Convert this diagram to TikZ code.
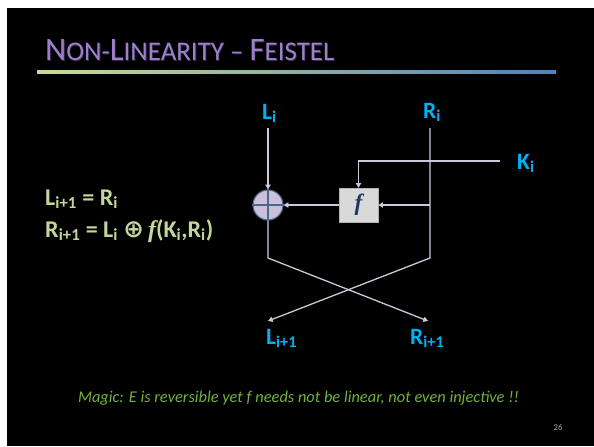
\documentclass[tikz,border=0pt]{standalone}
\usepackage{fontspec}
\setmainfont{Carlito}
\newfontfamily\serifit{Liberation Serif}
\newfontfamily\symfont{DejaVu Sans}
\usetikzlibrary{positioning, arrows.meta, calc}

\definecolor{titlepurple}{HTML}{9C80CA}
\definecolor{titleglow}{HTML}{3A2A55}
\definecolor{wirecol}{HTML}{CFC8DC}
\definecolor{labelcyan}{HTML}{00B0F0}
\definecolor{eqgreen}{HTML}{C3D69B}
\definecolor{notegreen}{HTML}{72B23F}
\definecolor{xorfill}{HTML}{CCC1DA}
\definecolor{xorline}{HTML}{4A6A8C}
\definecolor{boxfill}{HTML}{D9D9D9}
\definecolor{fblue}{HTML}{1F3864}
\definecolor{rulegreen}{HTML}{CADB8E}
\definecolor{ruleblue}{HTML}{4F81BD}

\newcommand{\capbig}[1]{{\fontsize{28}{32}\selectfont #1}}
\newcommand{\capsmall}[1]{{\fontsize{23}{26}\selectfont #1}}
\newcommand{\titletext}{\capbig{N}\capsmall{ON-}\capbig{L}\capsmall{INEARITY -- }\capbig{F}\capsmall{EISTEL}}

\tikzset{
  wire/.style={wirecol, line width=1.1pt},
  flow/.style={wire, -{Triangle[length=4pt,width=4.5pt]}},
  port/.style={text=labelcyan, font=\fontsize{20}{24}\selectfont\bfseries, inner sep=0pt, anchor=base west},
  eqn/.style={text=eqgreen, font=\fontsize{20.5}{24}\selectfont\bfseries, inner sep=0pt, anchor=base west},
  fblock/.style={draw=gray!60, fill=boxfill, minimum width=1.17cm, minimum height=1.02cm, inner sep=0pt},
  xorgate/.style={circle, draw=xorline, fill=xorfill, line width=1pt, minimum size=0.9cm, inner sep=0pt},
}

\begin{document}
\begin{tikzpicture}[x=0.03cm, y=-0.03cm]
    % Khung trang
    \useasboundingbox (0,0) rectangle (594,446);
    \fill[white] (0,0) rectangle (594,446);
    \fill[black] (7,8) rectangle (594,446);

    % Tieu de
    \node[text=titleglow, inner sep=0pt, anchor=base west] (titleglow) at (45.8,61.5) {\titletext};
    \node[text=titlepurple, inner sep=0pt, anchor=base west] (title) at (45,60) {\titletext};
    \shade[left color=rulegreen, right color=ruleblue] (37,70) rectangle (556,73);

    % Cong thuc
    \node[eqn] (eq1) at (45,205) {L\textsubscript{i+1} = R\textsubscript{i}};
    \node[eqn] (eq2) at (45,237) {R\textsubscript{i+1} = L\textsubscript{i} {\symfont\bfseries\fontsize{21}{24}\selectfont ⊕}\,{\serifit\itshape f}(K\textsubscript{i},R\textsubscript{i})};

    % Nhan vao / ra
    \node[port] (Li) at (262,119) {L\textsubscript{i}};
    \node[port] (Ri) at (423,118) {R\textsubscript{i}};
    \node[port] (Ki) at (517,169) {K\textsubscript{i}};
    \node[port] (Lnext) at (266,344) {L\textsubscript{i+1}};
    \node[port] (Rnext) at (410,344) {R\textsubscript{i+1}};

    % Khoi xor va f
    \node[xorgate] (xor) at (268,205) {};
    \draw[xorline, line width=1pt] (xor.north) -- (xor.south) (xor.west) -- (xor.east);
    \node[fblock] (fbox) at (358.5,205) {\fontsize{20}{24}\selectfont\serifit\bfseries\itshape\color{fblue}f};

    % Diem noi
    \coordinate (Ltop) at (268,128);
    \coordinate (Rtop) at (430,128);
    \coordinate (Kin) at (500,161);
    \coordinate (Rtap) at (430,205);
    \coordinate (Lbend) at (268,258);
    \coordinate (Rbend) at (430,258);
    \coordinate (Lout) at (268,321);
    \coordinate (Rout) at (428,321);

    % Day noi
    \draw[flow] (Ltop) -- (xor);
    \draw[flow] (Kin) -| (fbox);
    \draw[flow] (Rtap) -- (fbox);
    \draw[flow] (fbox) -- (xor);
    \draw[flow] (xor) -- (Lbend) -- (Rout);
    \draw[flow] (Rtop) -- (Rbend) -- (Lout);

    % Ghi chu
    \node[text=notegreen, inner sep=0pt, anchor=base, font=\fontsize{14}{17}\selectfont\itshape] (note) at (298.5,402)
      {Magic: E is reversible yet f needs not be linear, not even injective !!};
    \node[text=gray!70!white, inner sep=0pt, font=\fontsize{7.5}{9}\selectfont] (page) at (558,428) {26};
\end{tikzpicture}
\end{document}
